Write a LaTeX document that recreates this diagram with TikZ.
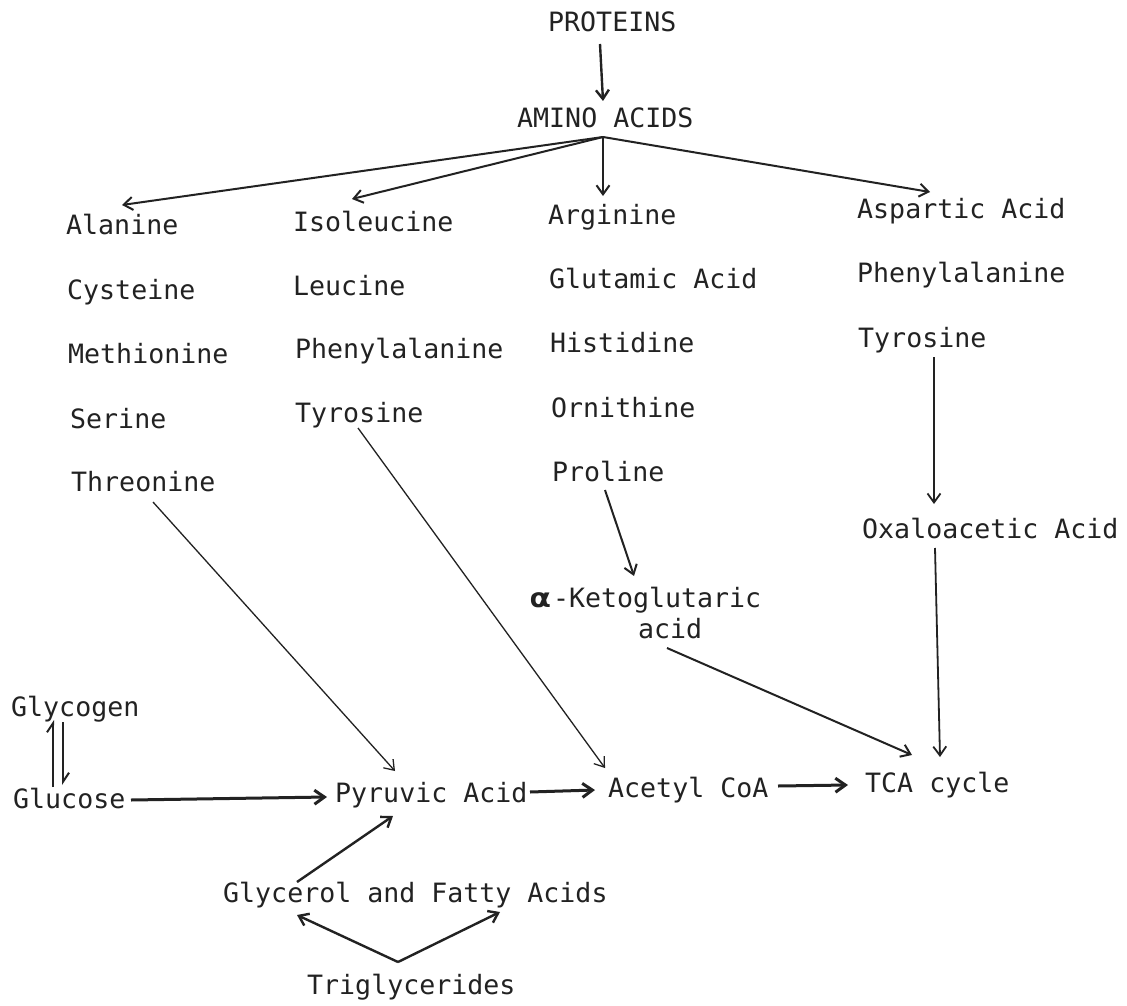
\documentclass[tikz,border=0pt]{standalone}
\usepackage{fontspec}
\usepackage{graphicx}
\setmonofont{DejaVu Sans Mono}
\usetikzlibrary{arrows.meta,calc}
\definecolor{ink}{HTML}{222222}
\begin{document}
\begin{tikzpicture}[x=1pt,y=-1pt,
  lbl/.style={anchor=base west, inner sep=0pt, font=\ttfamily\fontsize{26.6}{30}\selectfont, text=ink},
  arr/.style={draw=ink, line width=2pt, -{Straight Barb[length=9pt,width=13pt]}},
  thinarr/.style={arr, line width=1.3pt},
  midarr/.style={arr, line width=1.8pt},
  thickarr/.style={draw=ink, line width=3pt, -{Straight Barb[length=10pt,width=14pt]}},
  harp/.style={draw=ink, line width=2pt, -{Straight Barb[harpoon,length=9pt,width=12pt]}}]
\useasboundingbox (0,0) rectangle (1127,1006);
\fill[white] (0,0) rectangle (1127,1006);

% top
\node[lbl] (proteins) at (548,32) {PROTEINS};
\node[lbl] (amino) at (517,128) {AMINO ACIDS};

% column 1
\node[lbl] (alanine) at (66,234) {Alanine};
\node[lbl] (cysteine) at (67,299) {Cysteine};
\node[lbl] (methionine) at (68,363) {Methionine};
\node[lbl] (serine) at (70,428) {Serine};
\node[lbl] (threonine) at (71,491) {Threonine};

% column 2
\node[lbl] (isoleucine) at (293,231) {Isoleucine};
\node[lbl] (leucine) at (293,295) {Leucine};
\node[lbl] (phenylB) at (295,358) {Phenylalanine};
\node[lbl] (tyrosineB) at (295,422) {Tyrosine};

% column 3
\node[lbl] (arginine) at (548,224) {Arginine};
\node[lbl] (glutamic) at (549,288) {Glutamic Acid};
\node[lbl] (histidine) at (550,352) {Histidine};
\node[lbl] (ornithine) at (551,417) {Ornithine};
\node[lbl] (proline) at (552,481) {Proline};

% column 4
\node[lbl] (aspartic) at (857,218) {Aspartic Acid};
\node[lbl] (phenylD) at (857,282) {Phenylalanine};
\node[lbl] (tyrosineD) at (858,347) {Tyrosine};
\node[lbl] (oxalo) at (862,538) {Oxaloacetic Acid};

% ketoglutaric
\node[lbl] (keto) at (530,607) {\scalebox{1.3}[1]{\bfseries α}\kern2pt-Ketoglutaric};
\node[lbl] (acid) at (638,638) {acid};

% bottom
\node[lbl] (glycogen) at (11,716) {Glycogen};
\node[lbl] (glucose) at (13,808) {Glucose};
\node[lbl] (pyruvic) at (335,802) {Pyruvic Acid};
\node[lbl] (acetyl) at (608,797) {Acetyl CoA};
\node[lbl] (tca) at (865,792) {TCA cycle};
\node[lbl] (glycerol) at (223,902) {Glycerol and Fatty Acids};
\node[lbl] (trigly) at (307,994) {Triglycerides};

% connectors
\coordinate (apex) at ($(amino.base west)+(86,9)$);
\draw[arr, line width=2.4pt] ($(proteins.base west)+(52,12)$) -- ($(amino.base west)+(86,-27)$);
\draw[arr] (apex) -- ($(alanine.base west)+(56,-29)$);
\draw[arr] (apex) -- ($(isoleucine.base west)+(59,-32)$);
\draw[arr] (apex) -- ($(arginine.base west)+(55,-28)$);
\draw[arr] (apex) -- ($(aspartic.base west)+(73,-26)$);

\draw[midarr] ($(tyrosineD.base west)+(76,10)$) -- ($(oxalo.base west)+(72,-34)$);
\draw[midarr] ($(oxalo.base west)+(73,10)$) -- ($(tca.base west)+(75,-35)$);
\draw[arr] ($(proline.base west)+(53,9)$) -- ($(keto.base west)+(104,-31)$);
\draw[arr] ($(acid.base west)+(29,10)$) -- ($(tca.base west)+(47,-37)$);

\draw[thinarr] ($(threonine.base west)+(82,11)$) -- ($(pyruvic.base west)+(60,-31)$);
\draw[thinarr] ($(tyrosineB.base west)+(63,6)$) -- ($(acetyl.base west)+(-3,-29)$);

\draw[thickarr] ($(glucose.base west)+(118,-8)$) -- ($(pyruvic.base west)+(-8,-5)$);
\draw[thickarr] ($(pyruvic.base west)+(195,-10)$) -- ($(acetyl.base west)+(-13,-7)$);
\draw[thickarr] ($(acetyl.base west)+(170,-11)$) -- ($(tca.base west)+(-17,-7)$);

\draw[harp] ($(glucose.base west)+(40,-21)$) -- ($(glycogen.base west)+(42,4)$);
\draw[harp] ($(glycogen.base west)+(52,6)$) -- ($(glucose.base west)+(50,-23)$);

\draw[arr, line width=2.4pt] ($(glycerol.base west)+(74,-20)$) -- ($(pyruvic.base west)+(58,14)$);
\coordinate (tapex) at ($(trigly.base west)+(91,-32)$);
\draw[arr, line width=2.4pt] (tapex) -- ($(glycerol.base west)+(74,13)$);
\draw[arr, line width=2.4pt] (tapex) -- ($(glycerol.base west)+(277,10)$);
\end{tikzpicture}
\end{document}
